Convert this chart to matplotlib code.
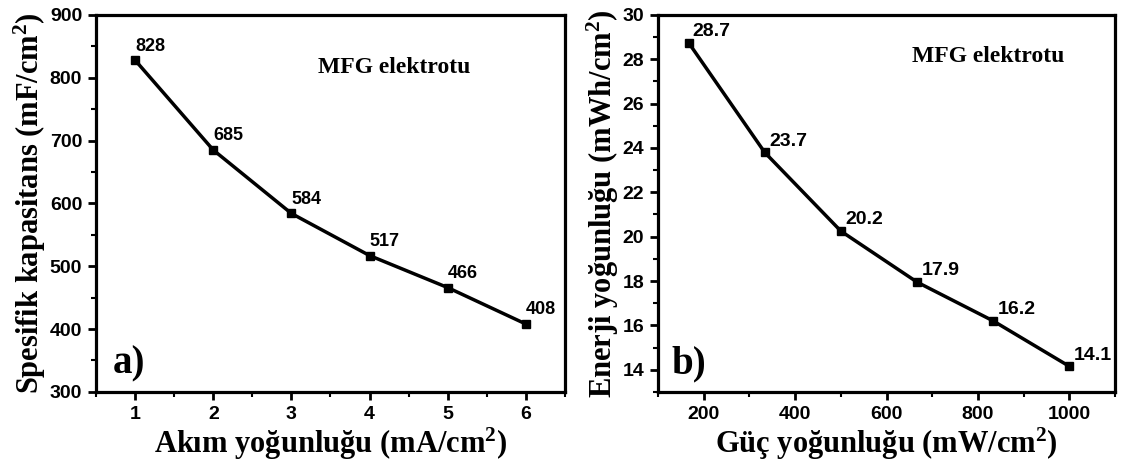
import matplotlib
matplotlib.use("Agg")
import matplotlib.pyplot as plt
from matplotlib.ticker import MultipleLocator

current = [1, 2, 3, 4, 5, 6]
capacitance = [828, 685, 584, 517, 466, 408]
cap_labels = ["828", "685", "584", "517", "466", "408"]

power = [166.7, 333.3, 500, 666.7, 833.3, 1000]
energy = [28.75, 23.8, 20.25, 17.95, 16.2, 14.15]
energy_labels = ["28.7", "23.7", "20.2", "17.9", "16.2", "14.1"]

plt.rcParams["mathtext.fontset"] = "custom"
plt.rcParams["mathtext.rm"] = "Liberation Serif:bold"
plt.rcParams["mathtext.bf"] = "Liberation Serif:bold"
plt.rcParams["mathtext.it"] = "Liberation Serif:bold:italic"

fig = plt.figure(figsize=(11.23, 4.66), dpi=100)
ax1 = fig.add_axes([0.0855, 0.159, 0.4176, 0.809])
ax2 = fig.add_axes([0.586, 0.159, 0.407, 0.809])

serif = "Liberation Serif"
sans = "Liberation Sans"

def style(ax):
    for s in ax.spines.values():
        s.set_linewidth(2.3)
    ax.tick_params(which="major", direction="out", length=6, width=2, top=False, right=False, pad=4)
    ax.tick_params(which="minor", direction="out", length=3.5, width=1.5, top=False, right=False)
    for lab in ax.get_xticklabels() + ax.get_yticklabels():
        lab.set_fontfamily(sans)
        lab.set_fontweight("bold")
        lab.set_fontsize(14)

ax1.plot(current, capacitance, color="black", lw=2.5, marker="s", ms=6)
ax1.set_xlim(0.5, 6.5)
ax1.set_ylim(300, 900)
ax1.xaxis.set_major_locator(MultipleLocator(1))
ax1.xaxis.set_minor_locator(MultipleLocator(0.5))
ax1.yaxis.set_major_locator(MultipleLocator(100))
ax1.yaxis.set_minor_locator(MultipleLocator(50))
style(ax1)
for x, y, t in zip(current, capacitance, cap_labels):
    ax1.annotate(t, (x, y), xytext=(0, 4), textcoords="offset points",
                 fontfamily=sans, fontweight="bold", fontsize=13, ha="left", va="bottom")
ax1.text(0.473, 0.86, "MFG elektrotu", transform=ax1.transAxes, fontfamily=serif,
         fontweight="bold", fontsize=17, va="center")
ax1.text(0.035, 0.05, "a)", transform=ax1.transAxes, fontfamily=serif,
         fontweight="bold", fontsize=28)
ax1.set_xlabel(r"Akım yoğunluğu (mA/cm$^\mathbf{2}$)", fontfamily=serif, fontweight="bold", fontsize=22, labelpad=2)
ax1.set_ylabel(r"Spesifik kapasitans (mF/cm$^\mathbf{2}$)", fontfamily=serif, fontweight="bold", fontsize=22, labelpad=1)

ax2.plot(power, energy, color="black", lw=2.5, marker="s", ms=6)
ax2.set_xlim(100, 1100)
ax2.set_ylim(13, 30)
ax2.xaxis.set_major_locator(MultipleLocator(200))
ax2.xaxis.set_minor_locator(MultipleLocator(100))
ax2.yaxis.set_major_locator(MultipleLocator(2))
ax2.yaxis.set_minor_locator(MultipleLocator(1))
style(ax2)
for x, y, t in zip(power, energy, energy_labels):
    ax2.annotate(t, (x, y), xytext=(3, 2), textcoords="offset points",
                 fontfamily=sans, fontweight="bold", fontsize=14, ha="left", va="bottom")
ax2.text(0.556, 0.889, "MFG elektrotu", transform=ax2.transAxes, fontfamily=serif,
         fontweight="bold", fontsize=17, va="center")
ax2.text(0.03, 0.05, "b)", transform=ax2.transAxes, fontfamily=serif,
         fontweight="bold", fontsize=28)
ax2.set_xlabel(r"Güç yoğunluğu (mW/cm$^\mathbf{2}$)", fontfamily=serif, fontweight="bold", fontsize=22, labelpad=2)
ax2.set_ylabel(r"Enerji yoğunluğu (mWh/cm$^\mathbf{2}$)", fontfamily=serif, fontweight="bold", fontsize=22, labelpad=1)

fig.savefig("out.png", dpi=100)
